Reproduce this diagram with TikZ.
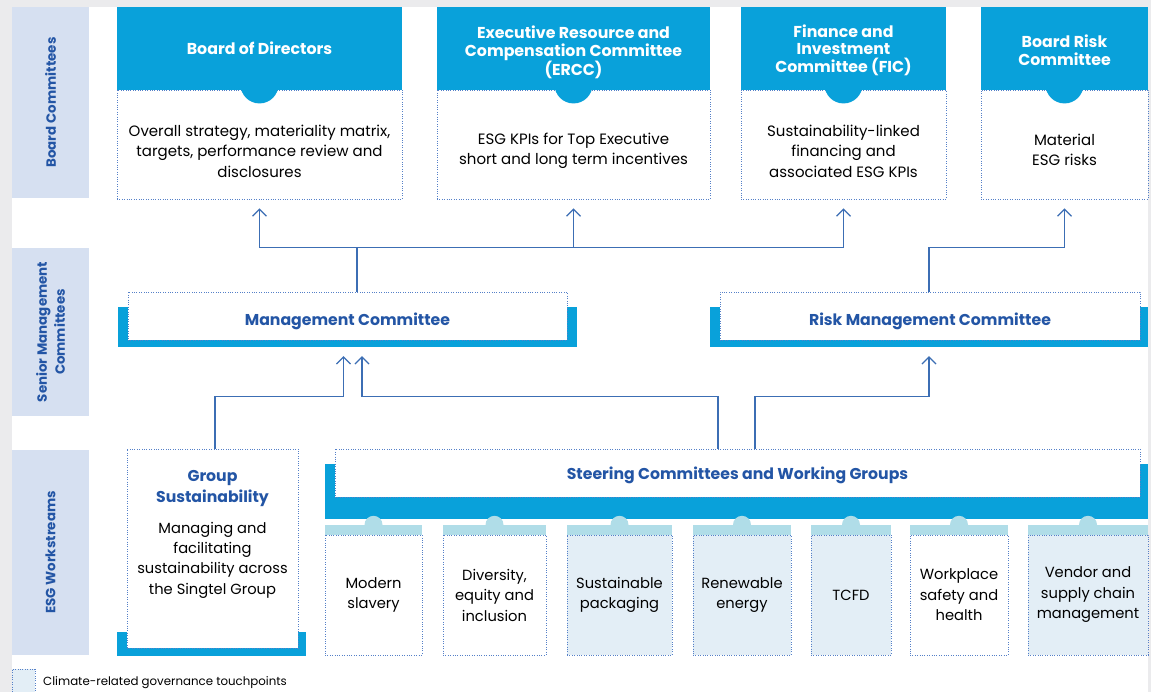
\documentclass[tikz,border=0pt]{standalone}
\usepackage{fontspec}
\setmainfont{Poppins}
\usetikzlibrary{arrows.meta,calc}
\definecolor{hdr}{RGB}{9,161,218}
\definecolor{navy}{RGB}{35,85,165}
\definecolor{linec}{RGB}{60,110,180}
\definecolor{dotc}{RGB}{85,128,200}
\definecolor{lblbg}{RGB}{214,224,241}
\definecolor{tabc}{RGB}{176,221,232}
\definecolor{climf}{RGB}{227,238,246}
\definecolor{bggrey}{RGB}{235,235,237}
\tikzset{
  dotbox/.style={draw=dotc, line width=0.8pt, dash pattern=on 0.8pt off 1.6pt, fill=white, inner sep=0pt, align=center},
  hdrbox/.style={fill=hdr, inner sep=0pt},
  hdrtxt/.style={inner sep=0pt, text=white, align=center, font=\bfseries\fontsize{15.8}{17.5}\selectfont},
  barbox/.style={fill=hdr, inner sep=0pt},
  tabbox/.style={fill=tabc, inner sep=0pt},
  bodytxt/.style={align=center, inner sep=0pt, font=\fontsize{15}{20.5}\selectfont},
  wstxt/.style={font=\fontsize{14.7}{20.5}\selectfont},
  navytxt/.style={align=center, inner sep=0pt, text=navy, font=\bfseries\fontsize{15.7}{21}\selectfont},
  lblbox/.style={fill=lblbg, inner sep=0pt, rotate=90, align=center, text=navy, font=\bfseries\fontsize{13.4}{18}\selectfont},
  line/.style={draw=linec, line width=1.2pt},
  arr/.style={draw=linec, line width=1.2pt, -{Straight Barb[length=7pt,width=14pt,line width=1.2pt]}},
}
\begin{document}
\begin{tikzpicture}[x=1pt,y=-1pt]
\useasboundingbox (0,0) rectangle (1151,692);
\fill[bggrey] (0,0) rectangle (1151,692);
\fill[white] (12,7) rectangle (1148,692);

% left labels
\node[lblbox, minimum width=191, minimum height=77] (lb1) at (50.5,102.5) {Board Committees};
\node[lblbox, minimum width=168, minimum height=77] (lb2) at (50.5,332) {Senior Management\\Committees};
\node[lblbox, minimum width=205, minimum height=77] (lb3) at (50.5,552.5) {ESG Workstreams};

% board committees
\node[dotbox, minimum width=285, minimum height=109] (bod) at (259.5,144.5) {};
\node[dotbox, minimum width=273, minimum height=109] (ercc) at (573.5,144.5) {};
\node[dotbox, minimum width=205, minimum height=109] (fic) at (843.5,144.5) {};
\node[dotbox, minimum width=167, minimum height=109] (brc) at (1064.5,144.5) {};

\node[hdrbox, minimum width=285, minimum height=83.5] (bodh) at (259.5,48.5) {};
\node[hdrbox, minimum width=273, minimum height=83.5] (ercch) at (573.5,48.5) {};
\node[hdrbox, minimum width=205, minimum height=83.5] (fich) at (843.5,48.5) {};
\node[hdrbox, minimum width=167, minimum height=83.5] (brch) at (1064.5,48.5) {};
\foreach \h in {bodh,ercch,fich,brch}{
  \fill[hdr] ($(\h.south)+(0,-6)$) circle[radius=19pt];
}
\node[hdrtxt] (bodht) at (259.5,48.5) {Board of Directors};
\node[hdrtxt] (erccht) at (573.5,52.5) {Executive Resource and\\Compensation Committee\\(ERCC)};
\node[hdrtxt] (ficht) at (843.5,50) {Finance and\\Investment\\Committee (FIC)};
\node[hdrtxt] (brcht) at (1064.5,50) {Board Risk\\Committee};

\node[bodytxt] (bodt) at (259.5,151) {Overall strategy, materiality matrix,\\targets, performance review and\\disclosures};
\node[bodytxt] (erct) at (573.5,151) {ESG KPIs for Top Executive\\short and long term incentives};
\node[bodytxt] (fict) at (843.5,151) {Sustainability-linked\\financing and\\associated ESG KPIs};
\node[bodytxt] (brct) at (1064.5,150) {Material\\ESG risks};

% senior management
\node[barbox, minimum width=459, minimum height=40] (mcbar) at (347.5,327) {};
\node[dotbox, minimum width=439, minimum height=48] (mc) at (347.5,316) {};
\node[navytxt] (mct) at (347.5,321) {Management Committee};
\node[barbox, minimum width=438, minimum height=40] (rmcbar) at (929,327) {};
\node[dotbox, minimum width=420, minimum height=48] (rmc) at (930,316) {};
\node[navytxt] (rmct) at (930,321) {Risk Management Committee};

% ESG workstreams
\node[barbox, minimum width=189, minimum height=24] (gsbar) at (211.5,644) {};
\node[dotbox, minimum width=171, minimum height=199] (gs) at (212.5,548.5) {};
\node[navytxt] (gst) at (212.5,488.5) {Group\\Sustainability};
\node[bodytxt, font=\fontsize{14.7}{20.3}\selectfont] (gsb) at (212.5,560) {Managing and\\facilitating\\sustainability across\\the Singtel Group};

\node[barbox, minimum width=823, minimum height=55] (stbar) at (736.5,491.5) {};
\node[dotbox, minimum width=805, minimum height=48] (st) at (737.5,473) {};
\node[navytxt] (stt) at (737.5,475) {Steering Committees and Working Groups};

\newcommand{\wsbox}[5]{%
  \node[dotbox, fill=#4, minimum width=#3-#2, minimum height=120] (#1) at ({(#2+#3)/2},595) {};
  \node[align=center, inner sep=0pt, wstxt] (#1t) at ({(#2+#3)/2},595) {#5};
  \node[tabbox, minimum width=#3-#2, minimum height=10] (#1tab) at ({(#2+#3)/2},530) {};
  \fill[tabc] (#1tab.north) circle[radius=9pt];
}
\wsbox{ws1}{325}{422}{white}{Modern\\slavery}
\wsbox{ws2}{443}{546}{white}{Diversity,\\equity and\\inclusion}
\wsbox{ws3}{567}{672}{climf}{Sustainable\\packaging}
\wsbox{ws4}{693}{791}{climf}{Renewable\\energy}
\wsbox{ws5}{811}{891}{climf}{TCFD}
\wsbox{ws6}{910}{1008}{white}{Workplace\\safety and\\health}
\wsbox{ws7}{1028}{1148}{climf}{Vendor and\\supply chain\\management}

% legend
\node[dotbox, fill=climf, minimum width=23, minimum height=30] (leg) at (23.5,684) {};
\node[anchor=west, inner sep=0pt, font=\fontsize{11.8}{13}\selectfont] (legt) at (43,683) {Climate-related governance touchpoints};

% connectors top
\draw[line] ([xshift=9.5pt]mc.north) -- ++(0,-44) coordinate (bus);
\draw[line] (bod.south |- bus) -- (fic.south |- bus);
\draw[arr, shorten >=9pt] (bod.south |- bus) -- (bod.south);
\draw[arr, shorten >=9pt] (ercc.south |- bus) -- (ercc.south);
\draw[arr, shorten >=9pt] (fic.south |- bus) -- (fic.south);
\draw[arr, shorten >=9pt] ([xshift=-1pt]rmc.north) -- ([xshift=-1pt]rmc.north |- bus) -| (brc.south);

% connectors bottom
\draw[arr, shorten >=9pt] ([xshift=2.5pt]gs.north) -- ++(0,-52) -| ([xshift=-4pt]mcbar.south);
\draw[arr, shorten >=9pt] ([xshift=-19.5pt]st.north) -- ++(0,-52) -| ([xshift=14.5pt]mcbar.south);
\draw[arr, shorten >=9pt] ([xshift=17.5pt]st.north) -- ++(0,-52) -| (rmcbar.south);
\end{tikzpicture}
\end{document}
